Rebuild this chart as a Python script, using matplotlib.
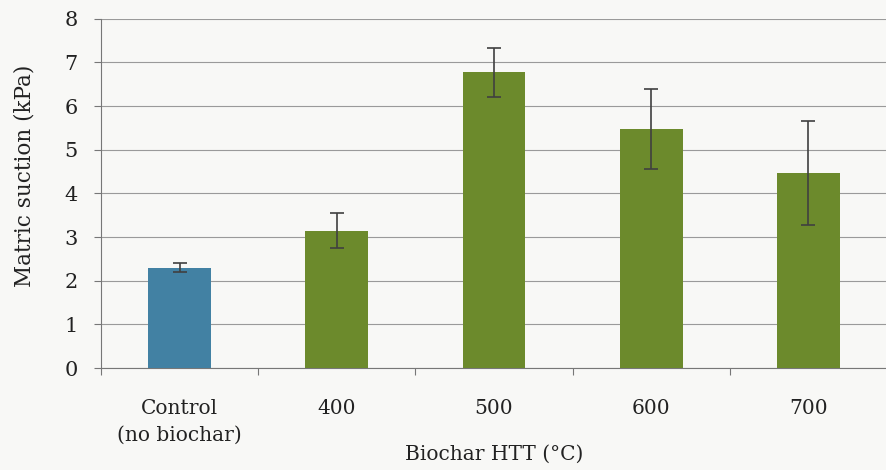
import numpy as np
import matplotlib.pyplot as plt

# data
categories = ['Control\n(no biochar)', '400', '500', '600', '700']
suction = [2.3, 3.14, 6.77, 5.47, 4.47]
errors = [0.1, 0.4, 0.57, 0.92, 1.2]
colors = ['#4281a3', '#6c8a2c', '#6c8a2c', '#6c8a2c', '#6c8a2c']

plt.rcParams['font.family'] = ['DejaVu Serif']

fig = plt.figure(figsize=(8.87, 4.70), dpi=100)
fig.patch.set_facecolor('#f8f8f6')
ax = fig.add_axes([0.114, 0.217, 0.886, 0.743])
ax.set_facecolor('#f8f8f6')

x = np.arange(len(categories))
ax.bar(x, suction, width=0.4, color=colors, zorder=3)
ax.errorbar(x, suction, yerr=errors, fmt='none', ecolor='#404040',
            elinewidth=1.2, capsize=5, capthick=1.2, zorder=4)

ax.set_xlim(-0.5, len(categories) - 0.5)
ax.set_ylim(0, 8)
ax.set_yticks(range(0, 9))
ax.yaxis.grid(True, color='#9a9a9a', linewidth=0.8, zorder=0)

# ticks between categories, labels centered on bars
ax.set_xticks(np.arange(-0.5, len(categories), 1.0))
ax.set_xticklabels([])
ax.set_xticks(x, minor=True)
ax.set_xticklabels(categories, minor=True, fontsize=14.5, color='#222222',
                   linespacing=1.55)
ax.tick_params(axis='x', which='minor', length=0, pad=22)
ax.tick_params(axis='x', which='major', length=5, color='#777777', direction='out')
ax.tick_params(axis='y', length=5, color='#777777', labelsize=15, labelcolor='#222222', pad=12)

for s in ['top', 'right']:
    ax.spines[s].set_visible(False)
ax.spines['left'].set_color('#777777')
ax.spines['bottom'].set_color('#777777')

ax.set_ylabel('Matric suction (kPa)', fontsize=15.5, color='#222222')
ax.yaxis.set_label_coords(-0.083, 0.55)
ax.set_xlabel('Biochar HTT (°C)', fontsize=14.5, color='#222222', labelpad=0)

fig.savefig('out.png', dpi=100, facecolor=fig.get_facecolor())
